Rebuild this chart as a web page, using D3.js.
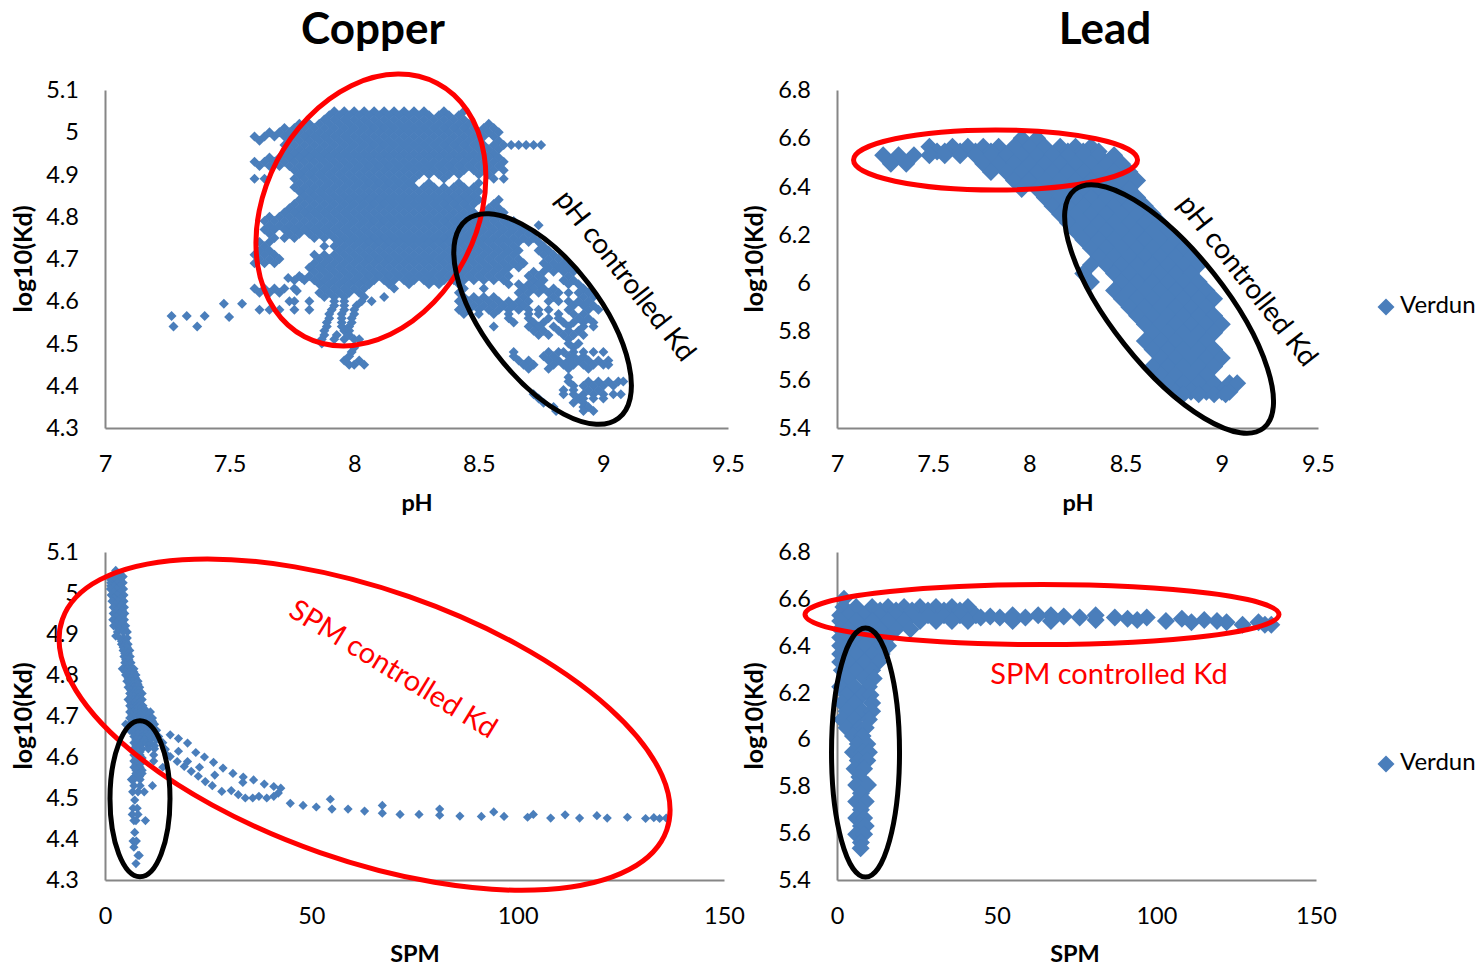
<!DOCTYPE html>
<html>
<head>
<meta charset="utf-8">
<script src="https://cdnjs.cloudflare.com/ajax/libs/d3/7.8.5/d3.min.js"></script>
<style>
  html, body { margin: 0; padding: 0; background: #fff; }
  svg text { font-family: Lato, "Liberation Sans", sans-serif; fill: #000; }
</style>
</head>
<body>
<script>
// Tick labels
const phTicks = [7, 7.5, 8, 8.5, 9, 9.5];
const spmTicks = [0, 50, 100, 150];
const cuKdTicks = [4.3, 4.4, 4.5, 4.6, 4.7, 4.8, 4.9, 5, 5.1];
const pbKdTicks = [5.4, 5.6, 5.8, 6, 6.2, 6.4, 6.6, 6.8];

// Copper, pH panel: one list of pH readings for each log10(Kd) row
const cuPhRowKd = [5.05, 5.04, 5.03, 5.02, 5.01, 5, 4.99, 4.98, 4.97, 4.96, 4.95, 4.94, 4.93, 4.92, 4.91, 4.9, 4.89, 4.88, 4.87, 4.86, 4.85, 4.84, 4.83, 4.82, 4.81, 4.8, 4.79, 4.78, 4.77, 4.76, 4.75, 4.74, 4.73, 4.72, 4.71, 4.7, 4.69, 4.68, 4.67, 4.66, 4.65, 4.64, 4.63, 4.62, 4.61, 4.6, 4.59, 4.58, 4.57, 4.56, 4.55, 4.54, 4.53, 4.52, 4.51, 4.5, 4.49, 4.48, 4.47, 4.46, 4.45, 4.44, 4.42, 4.41, 4.4, 4.39, 4.38, 4.37, 4.36, 4.35, 4.34];
const cuPhRowPh = [
  [7.92,7.96,8,8.04,8.08,8.12,8.16,8.2,8.24,8.28,8.36,8.44],
  [7.9,7.94,7.98,8.02,8.06,8.1,8.14,8.18,8.22,8.26,8.3,8.34,8.38,8.42],
  [7.88,7.92,7.96,8,8.04,8.08,8.12,8.16,8.2,8.24,8.28,8.32,8.36,8.4,8.44],
  [7.78,7.82,7.86,7.9,7.94,7.98,8.02,8.06,8.1,8.14,8.18,8.22,8.26,8.3,8.34,8.38,8.42,8.46,8.54],
  [7.72,7.76,7.8,7.84,7.88,7.92,7.96,8,8.04,8.08,8.12,8.16,8.2,8.24,8.28,8.32,8.36,8.4,8.44,8.48,8.52,8.56],
  [7.66,7.7,7.74,7.78,7.82,7.86,7.9,7.94,7.98,8.02,8.06,8.1,8.14,8.18,8.22,8.26,8.3,8.34,8.38,8.42,8.46,8.5,8.54,8.58],
  [7.6,7.64,7.68,7.72,7.76,7.8,7.84,7.88,7.92,7.96,8,8.04,8.08,8.12,8.16,8.2,8.24,8.28,8.32,8.36,8.4,8.44,8.48,8.52,8.56],
  [7.62,7.74,7.78,7.82,7.86,7.9,7.94,7.98,8.02,8.06,8.1,8.14,8.18,8.22,8.26,8.3,8.34,8.38,8.42,8.46,8.5,8.58],
  [7.72,7.76,7.8,7.84,7.88,7.92,7.96,8,8.04,8.08,8.12,8.16,8.2,8.24,8.28,8.32,8.36,8.4,8.44,8.48,8.52,8.56,8.6,8.63,8.66,8.69,8.72,8.75],
  [7.74,7.78,7.82,7.86,7.9,7.94,7.98,8.02,8.06,8.1,8.14,8.18,8.22,8.26,8.3,8.34,8.38,8.42,8.46,8.5,8.54,8.58],
  [7.72,7.76,7.8,7.84,7.88,7.92,7.96,8,8.04,8.08,8.12,8.16,8.2,8.24,8.28,8.32,8.36,8.4,8.44,8.48,8.52,8.56],
  [7.66,7.7,7.74,7.78,7.82,7.86,7.9,7.94,7.98,8.02,8.06,8.1,8.14,8.18,8.22,8.26,8.3,8.34,8.38,8.42,8.46,8.5,8.54,8.58],
  [7.6,7.64,7.68,7.72,7.76,7.8,7.84,7.88,7.92,7.96,8,8.04,8.08,8.12,8.16,8.2,8.24,8.28,8.32,8.36,8.4,8.44,8.48,8.52,8.56,8.6],
  [7.62,7.66,7.7,7.74,7.78,7.82,7.86,7.9,7.94,7.98,8.02,8.06,8.1,8.14,8.18,8.22,8.26,8.3,8.34,8.38,8.42,8.46,8.5,8.54,8.58],
  [7.76,7.8,7.84,7.88,7.92,7.96,8,8.04,8.08,8.12,8.16,8.2,8.24,8.28,8.32,8.36,8.4,8.44,8.48,8.52,8.56,8.6],
  [7.78,7.82,7.86,7.9,7.94,7.98,8.02,8.06,8.1,8.14,8.18,8.22,8.26,8.3,8.34,8.38,8.42,8.5,8.54],
  [7.6,7.64,7.76,7.8,7.84,7.88,7.92,7.96,8,8.04,8.08,8.12,8.16,8.2,8.24,8.36,8.56,8.6],
  [7.78,7.82,7.86,7.9,7.94,7.98,8.02,8.06,8.1,8.14,8.18,8.22,8.3,8.42,8.5],
  [7.76,7.8,7.84,7.88,7.92,7.96,8,8.04,8.08,8.12,8.16,8.2,8.24,8.28,8.32,8.36,8.4,8.44,8.48],
  [7.78,7.82,7.86,7.9,7.94,7.98,8.02,8.06,8.1,8.14,8.18,8.22,8.26,8.3,8.34,8.38,8.42,8.46,8.5],
  [7.8,7.84,7.88,7.92,7.96,8,8.04,8.08,8.12,8.16,8.2,8.24,8.28,8.32,8.36,8.4,8.44,8.48],
  [7.78,7.82,7.86,7.9,7.94,7.98,8.02,8.06,8.1,8.14,8.18,8.22,8.26,8.3,8.34,8.38,8.42,8.46,8.5,8.58],
  [7.76,7.8,7.84,7.88,7.92,7.96,8,8.04,8.08,8.12,8.16,8.2,8.24,8.28,8.32,8.36,8.4,8.44,8.48,8.56],
  [7.74,7.78,7.82,7.86,7.9,7.94,7.98,8.02,8.06,8.1,8.14,8.18,8.22,8.26,8.3,8.34,8.38,8.42,8.46,8.54,8.58],
  [7.72,7.76,7.8,7.84,7.88,7.92,7.96,8,8.04,8.08,8.12,8.16,8.2,8.24,8.28,8.32,8.36,8.4,8.44,8.48,8.52,8.56,8.6],
  [7.66,7.7,7.74,7.78,7.82,7.86,7.9,7.94,7.98,8.02,8.06,8.1,8.14,8.18,8.22,8.26,8.3,8.34,8.38,8.42,8.46,8.5,8.54,8.58],
  [7.64,7.68,7.72,7.76,7.8,7.84,7.88,7.92,7.96,8,8.04,8.08,8.12,8.16,8.2,8.24,8.28,8.32,8.36,8.4,8.44,8.48,8.52,8.56,8.6,8.64],
  [7.66,7.7,7.74,7.78,7.82,7.86,7.9,7.94,7.98,8.02,8.06,8.1,8.14,8.18,8.22,8.26,8.3,8.34,8.38,8.42,8.46,8.5,8.54,8.58,8.62,8.66,8.74],
  [7.64,7.68,7.72,7.76,7.8,7.84,7.88,7.92,7.96,8,8.04,8.08,8.12,8.16,8.2,8.24,8.28,8.32,8.36,8.4,8.44,8.48,8.52,8.56,8.6,8.64,8.68],
  [7.66,7.74,7.78,7.82,7.86,7.9,7.94,7.98,8.02,8.06,8.1,8.14,8.18,8.22,8.26,8.3,8.34,8.38,8.42,8.46,8.5,8.54,8.58,8.62,8.66,8.7],
  [7.68,7.72,7.76,7.84,7.88,7.92,7.96,8,8.04,8.08,8.12,8.16,8.2,8.24,8.28,8.32,8.36,8.4,8.44,8.48,8.52,8.56,8.6,8.64,8.68,8.72],
  [7.62,7.66,7.94,7.98,8.02,8.06,8.1,8.14,8.18,8.22,8.26,8.3,8.34,8.38,8.42,8.46,8.5,8.54,8.58,8.62,8.66,8.7,8.74],
  [7.64,7.88,7.92,7.96,8,8.04,8.08,8.12,8.16,8.2,8.24,8.28,8.32,8.36,8.4,8.44,8.48,8.52,8.56,8.6,8.64,8.76],
  [7.62,7.66,7.94,7.98,8.02,8.06,8.1,8.14,8.18,8.22,8.26,8.3,8.34,8.38,8.42,8.46,8.5,8.54,8.58,8.62,8.66,8.74,8.78],
  [7.6,7.64,7.68,7.84,7.88,7.92,7.96,8,8.04,8.08,8.12,8.16,8.2,8.24,8.28,8.32,8.36,8.4,8.44,8.48,8.52,8.56,8.6,8.64,8.76,8.8],
  [7.62,7.66,7.7,7.86,7.9,7.94,7.98,8.02,8.06,8.1,8.14,8.18,8.22,8.26,8.3,8.34,8.38,8.42,8.46,8.5,8.54,8.58,8.62,8.66,8.78,8.82],
  [7.6,7.64,7.68,7.84,7.88,7.92,7.96,8,8.04,8.08,8.12,8.16,8.2,8.24,8.28,8.32,8.36,8.4,8.44,8.48,8.52,8.56,8.6,8.64,8.68,8.76,8.8,8.84],
  [7.82,7.86,7.9,7.94,7.98,8.02,8.06,8.1,8.14,8.18,8.22,8.26,8.3,8.34,8.38,8.42,8.46,8.5,8.54,8.58,8.62,8.66,8.78,8.82,8.86],
  [7.84,7.88,7.92,7.96,8,8.04,8.08,8.12,8.16,8.2,8.24,8.28,8.32,8.36,8.4,8.44,8.48,8.52,8.56,8.6,8.72,8.76,8.8,8.84,8.88],
  [7.78,7.82,7.86,7.9,7.94,7.98,8.02,8.06,8.1,8.14,8.18,8.22,8.26,8.3,8.34,8.38,8.42,8.46,8.5,8.54,8.58,8.62,8.7,8.74,8.86],
  [7.76,7.8,7.84,7.88,7.92,7.96,8,8.04,8.08,8.12,8.16,8.2,8.24,8.28,8.32,8.36,8.4,8.44,8.48,8.52,8.56,8.6,8.72,8.76,8.84,8.88],
  [7.86,7.9,7.94,7.98,8.02,8.06,8.14,8.22,8.3,8.34,8.42,8.62,8.66,8.7,8.74,8.86,8.9],
  [7.6,7.64,7.68,7.72,7.76,7.88,7.92,7.96,8,8.04,8.16,8.44,8.52,8.68,8.72,8.76,8.8,8.92],
  [7.62,7.66,7.7,7.86,7.9,7.94,7.98,8.02,8.42,8.66,8.7,8.74,8.78,8.82,8.86,8.9,8.94],
  [7.88,7.92,7.96,8.04,8.12,8.44,8.48,8.52,8.56,8.68,8.8,8.92,8.96],
  [7.74,7.82,7.92,7.96,8.03,8.07,8.42,8.46,8.5,8.54,8.58,8.62,8.66,8.7,8.78,8.82,8.86,8.9,8.94],
  [7.92,7.96,8.01,8.44,8.48,8.52,8.56,8.6,8.64,8.68,8.88,8.92,8.96],
  [7.62,7.66,7.7,7.76,7.82,7.91,7.96,8,8.42,8.46,8.5,8.54,8.58,8.62,8.66,8.7,8.74,8.78,8.86,8.94,8.98],
  [7.9,7.95,8,8.44,8.5,8.56,8.62,8.7,8.74,8.82,8.88,8.92],
  [7.9,7.95,7.99,8.62,8.7,8.78,8.82,8.9,8.94],
  [7.89,7.95,7.99,8.64,8.72,8.76,8.84,8.88,8.92,8.96],
  [7.89,7.95,7.98,8.56,8.7,8.74,8.8,8.86,8.92,8.96],
  [7.88,7.96,7.98,8.72,8.76,8.82,8.86,8.9],
  [7.88,7.93,7.98,8.74,8.78,8.84,8.88,8.92],
  [7.87,7.92,7.96,8,8.02,8.86],
  [7.87,8.86,8.9],
  [8,8.88],
  [7.99,8.64,8.78,8.82,8.84,8.88,8.92,8.96,9],
  [7.98,8.64,8.76,8.8,8.86,8.88,8.92],
  [7.96,8.02,8.66,8.7,8.78,8.82,8.86,8.9,8.94,8.98,9.02],
  [7.98,8.04,8,8.68,8.72,8.8,8.84,8.88,8.92,8.96,9,9.02],
  [8.7,8.78,8.86,8.94],
  [8.86],
  [8.86,8.94,8.98,9.02,9.06,9.08],
  [8.88,8.92,8.96,9,9.04],
  [8.84,8.88,8.94,8.98],
  [8.72,8.84,8.88,8.92,8.96,9,9.04,9.07],
  [8.74,8.9,8.92,8.96,9],
  [8.76,8.88,8.92],
  [8.8,8.92,8.94],
  [8.81,8.92,8.96]
];
// low pH stragglers on the left
const cuPhLowPh = [7.267, 7.328, 7.4, 7.275, 7.37, 7.498, 7.477, 7.55, 7.735, 7.79, 7.77, 7.76];
const cuPhLowKd = [4.565, 4.565, 4.565, 4.54, 4.54, 4.563, 4.594, 4.594, 4.655, 4.655, 4.624, 4.6];

// Copper, SPM panel: the steep column, one list of SPM readings per row
const cuSpmRowKd = [5.055, 5.0475, 5.04, 5.0325, 5.025, 5.0175, 5.01, 5.0025, 4.995, 4.9875, 4.98, 4.9725, 4.965, 4.9575, 4.95, 4.9425, 4.935, 4.9275, 4.92, 4.9125, 4.905, 4.895, 4.89, 4.8825, 4.875, 4.8675, 4.86, 4.8525, 4.845, 4.8375, 4.83, 4.8225, 4.815, 4.8075, 4.8, 4.7925, 4.785, 4.7775, 4.77, 4.7625, 4.755, 4.7475, 4.74, 4.7325, 4.725, 4.7175, 4.71, 4.7025, 4.695, 4.6875, 4.68, 4.6725, 4.665, 4.6575, 4.65, 4.6425, 4.635, 4.6275, 4.62, 4.6125, 4.605, 4.5975, 4.59, 4.5825, 4.575, 4.5675, 4.56, 4.5525, 4.545, 4.53, 4.515, 4.495, 4.475, 4.46, 4.445, 4.416, 4.395, 4.38, 4.36, 4.34];
const cuSpmRowSpm = [
  [2.6], [2.2,3.6], [1.8,3,4.4], [1.4,2.4,3.7], [1.4,3,4.4], [1.4,2.2,3.7], [1.3,2.8,4.5], [2.1,3.7], [1.5,3,4.6], [2.2,3.9],
  [1.7,3.2,4.6], [2.5,4], [2,3.5,4.7], [2.7,4.2], [2,3.5,4.8], [2.7,4.2], [1.9,3.4,4.7], [2.7,4.2], [2.1,3.6,5], [3.3,4.7],
  [3,4.4,5.4], [2.6], [3.6,4.5,5.4], [4,5], [4,4.8,5.6], [4.4,5.4], [4.4,5.2,6], [4.8,5.6], [4.6,5.4,6.1], [5,5.8],
  [4.8,5.5,6.3], [5.2,6], [4.2,5.5,6.3,7], [5,6,7], [5,5.8,6.5,7.5], [5.6,6.4,7.4], [5.3,6.1,6.8,8], [6,7,8], [5.6,6.3,7,7.7,8.4], [6.3,7.3,8.2],
  [6,6.8,7.5,8.2,9], [6.3,7.2,8.3], [5.6,6.3,7,7.8,8.5,9], [6.3,7.2,8.3], [6,6.8,7.5,8.3,9.2], [6.5,7.5,8.5,9.5], [6,6.8,7.5,8.5,9.5,10.2,11], [6.5,7.5,8.5,9.5,10.5], [6,7.5,8.5,9.5,10.5,11.5], [6.5,7.5,8.5,9.5,10.5,11.5],
  [5,6,7,8,9,10,11,12], [6.5,7.5,8.5,9.5,10.5,11.5], [6,7,8,9,10,11,12.5], [7,8,9,10,11,12], [7,8,9,10,11,12,13], [7.5,8.5,9.5,11,12.5], [7,8,9,10,11,14], [7.5,8.5,10.5,12], [7,9,10.5,12,14.5], [7.5,8.5],
  [7,8.5,11.8,15], [7.5,9], [7,8,9,11.8], [7.5,8.5], [7,8.5,14], [7.5,9], [7.5,8.5,9], [7.2,8.4], [6.4,7,8.5], [7,8.5,11.5], [6.7,8,9.5],
  [7.2], [6.8,7.8], [6.6,8], [7,7.5,9.8], [7.2], [6.8,7.6], [7], [8,8.3], [7.5]
];
// Copper, SPM panel: the arcs and the long tail
const cuSpmTailSpm = [15.8, 17.8, 20, 22, 24.1, 26.3, 28.6, 31, 33.5, 33.4, 36, 38.6, 40.9, 42.6, 42, 17.8, 20, 22.9, 26.6, 14.6, 15.8, 17.5, 19.2, 20.9, 22.6, 24.3, 26, 28.3, 30.6, 32.3, 34, 35.8, 37.3, 39.2, 40.9, 44.9, 48, 51.2, 54.6, 55, 58.9, 62.9, 67.2, 67.2, 71.5, 76.1, 81.1, 81.1, 86, 91.2, 94.2, 96.7, 102.4, 103.8, 108, 111.5, 115, 119.2, 121.7, 126.6, 131, 133, 134.4, 136];
const cuSpmTailKd = [4.654, 4.645, 4.634, 4.611, 4.6, 4.587, 4.573, 4.56, 4.551, 4.538, 4.544, 4.534, 4.528, 4.524, 4.512, 4.614, 4.589, 4.575, 4.556, 4.618, 4.601, 4.589, 4.577, 4.565, 4.553, 4.54, 4.53, 4.516, 4.518, 4.508, 4.5, 4.5, 4.504, 4.5, 4.504, 4.487, 4.482, 4.478, 4.497, 4.473, 4.473, 4.468, 4.482, 4.463, 4.46, 4.46, 4.473, 4.458, 4.456, 4.455, 4.466, 4.455, 4.453, 4.46, 4.451, 4.459, 4.451, 4.457, 4.451, 4.453, 4.45, 4.452, 4.45, 4.451];

// Lead, pH panel
const pbPhRowKd = [6.6, 6.565, 6.545, 6.53, 6.495, 6.46, 6.425, 6.39, 6.355, 6.32, 6.285, 6.25, 6.215, 6.18, 6.145, 6.11, 6.075, 6.04, 6.005, 5.97, 5.935, 5.9, 5.865, 5.83, 5.795, 5.76, 5.725, 5.69, 5.655, 5.62, 5.585, 5.55, 5.54];
const pbPhRowPh = [
  [7.96,8.04],
  [7.48,7.6,7.68,7.76,7.84,7.92,8,8.08,8.16,8.24,8.32],
  [7.52,7.56,7.64,7.72,7.8,8.2,8.28,8.36],
  [7.24,7.32,7.4,7.48,7.56,7.64,7.72,7.8,7.88,7.96,8.04,8.12,8.2,8.28,8.36,8.44],
  [7.28,7.36,7.76,7.84,7.92,8,8.08,8.16,8.24,8.32,8.4,8.48],
  [7.8,7.88,7.96,8.04,8.12,8.2,8.28,8.36,8.44,8.52],
  [7.92,8,8.08,8.16,8.24,8.32,8.4,8.48,8.56],
  [7.96,8.04,8.12,8.2,8.28,8.36,8.44,8.52],
  [8.08,8.16,8.24,8.32,8.4,8.48,8.56],
  [8.12,8.2,8.28,8.36,8.44,8.52,8.6],
  [8.16,8.24,8.32,8.4,8.48,8.56,8.64],
  [8.2,8.28,8.36,8.44,8.52,8.6,8.68],
  [8.24,8.32,8.4,8.48,8.56,8.64,8.72],
  [8.28,8.36,8.44,8.52,8.6,8.68,8.76],
  [8.32,8.4,8.48,8.56,8.64,8.72,8.8],
  [8.36,8.44,8.52,8.6,8.68,8.76,8.84],
  [8.32,8.4,8.48,8.56,8.64,8.72,8.8,8.88],
  [8.28,8.44,8.52,8.6,8.68,8.76,8.84],
  [8.32,8.48,8.56,8.64,8.72,8.8,8.88],
  [8.44,8.52,8.6,8.68,8.76,8.84,8.92],
  [8.48,8.56,8.64,8.72,8.8,8.88,8.96],
  [8.52,8.6,8.68,8.76,8.84,8.92],
  [8.56,8.64,8.72,8.8,8.88,8.96],
  [8.6,8.68,8.76,8.84,8.92,9],
  [8.64,8.72,8.8,8.88,8.96],
  [8.6,8.68,8.76,8.84,8.92],
  [8.64,8.72,8.8,8.88,8.96],
  [8.68,8.76,8.84,8.92,9],
  [8.64,8.72,8.8,8.88,8.96],
  [8.68,8.76,8.84,8.92],
  [8.72,8.8,8.88,8.96,9.04,9.08],
  [8.76,8.84,8.92,9,9.04],
  [8.8,8.88,8.96,9.02]
];

// Lead, SPM panel: the steep column and the plateau
const pbSpmRowKd = [6.6, 6.565, 6.55, 6.53, 6.505, 6.47, 6.435, 6.4, 6.365, 6.33, 6.295, 6.26, 6.225, 6.19, 6.155, 6.12, 6.085, 6.05, 6.015, 5.98, 5.945, 5.91, 5.875, 5.84, 5.805, 5.77, 5.735, 5.7, 5.665, 5.63, 5.595, 5.56, 5.535];
const pbSpmRowSpm = [
  [2.2], [2,6,11,16,21,26,31,36,41], [13.5,18.5,23.5,28.5,33.5,38.5], [1,3.5,8.5,13.5,18.5,23.5,28.5,33.5,38.5,43.5], [1,6,11,16,21,26,31,36,41],
  [1,3.5,8.5,13.5,18.5,23], [1,6,11,16], [1,3.5,8.5,13.5,16], [1,6,11,14], [1,3.5,8.5,13], [1.5,6,11], [3.5,8.5,11.5], [1,5.5,10],
  [3,8,10.5], [1.5,5.5,11], [3,8,11], [1.5,5.5,10], [3,7,9], [5,8], [6.5,9.5], [5,8,10], [6.5,9.5], [5.5,8.5], [7], [6,9.7], [7.5], [6,9], [7.5],
  [6,8.5], [7.5,9], [6,8.5], [7.5], [7.4]
];
const pbSpmTailSpm = [45, 48, 51, 55, 55, 59, 63, 67, 67, 71, 76, 81, 81, 87, 91, 94, 97, 103, 108, 111, 115, 119, 122, 127, 132, 134, 136];
const pbSpmTailKd = [6.52, 6.525, 6.52, 6.53, 6.505, 6.52, 6.53, 6.53, 6.505, 6.525, 6.52, 6.53, 6.51, 6.52, 6.515, 6.51, 6.52, 6.505, 6.515, 6.5, 6.51, 6.505, 6.5, 6.49, 6.5, 6.49, 6.49];

const legendName = "Verdun";
const blue = "#4a7ebb";

// Page furniture
const width = 1483;
const height = 968;
const svg = d3.select("body").append("svg").attr("width", width).attr("height", height);

function toPoints(rowKd, rowX) {
  return rowKd.flatMap((kd, i) => rowX[i].map((x) => ({ x: x, kd: kd })));
}
function pairs(xs, kds) {
  return xs.map((x, i) => ({ x: x, kd: kds[i] }));
}

const panels = [
  {
    box: [105, 728, 90, 428], xDomain: [7, 9.5], yDomain: [4.3, 5.1], xTicks: phTicks, yTicks: cuKdTicks,
    xTitle: "pH", xTitleX: 417, xTitleY: 505, yTitleX: 26, r: 5, legendY: null,
    points: toPoints(cuPhRowKd, cuPhRowPh).concat(pairs(cuPhLowPh, cuPhLowKd)),
    ellipses: [
      { cx: 8.067, cy: 4.816, rx: 106, ry: 143, rot: 27.6, color: "#ff0000" },
      { cx: 8.756, cy: 4.558, rx: 58, ry: 125, rot: -37.4, color: "#000" },
    ],
    note: { text: "pH controlled Kd", x: 624, y: 277, rot: 52, color: "#000", size: 28 },
  },
  {
    box: [837, 1318, 90, 428], xDomain: [7, 9.5], yDomain: [5.4, 6.8], xTicks: phTicks, yTicks: pbKdTicks,
    xTitle: "pH", xTitleX: 1078, xTitleY: 505, yTitleX: 757, r: 9, legendY: 307,
    points: toPoints(pbPhRowKd, pbPhRowPh),
    ellipses: [
      { cx: 7.824, cy: 6.51, rx: 142, ry: 30, rot: 0, color: "#ff0000" },
      { cx: 8.726, cy: 5.893, rx: 57, ry: 152, rot: -38.4, color: "#000" },
    ],
    note: { text: "pH controlled Kd", x: 1246, y: 282, rot: 52, color: "#000", size: 28 },
  },
  {
    box: [105, 724, 552, 880], xDomain: [0, 150], yDomain: [4.3, 5.1], xTicks: spmTicks, yTicks: cuKdTicks,
    xTitle: "SPM", xTitleX: 415, xTitleY: 956, yTitleX: 26, r: 4.6, legendY: null,
    points: toPoints(cuSpmRowKd, cuSpmRowSpm).concat(pairs(cuSpmTailSpm, cuSpmTailKd)),
    ellipses: [
      { cx: 62.9, cy: 4.679, rx: 320, ry: 135.5, rot: 19.2, color: "#ff0000" },
      { cx: 8.48, cy: 4.498, rx: 30, ry: 78, rot: 0, color: "#000" },
    ],
    note: { text: "SPM controlled Kd", x: 392, y: 671, rot: 31.5, color: "#ff0000", size: 29 },
  },
  {
    box: [837, 1316, 552, 880], xDomain: [0, 150], yDomain: [5.4, 6.8], xTicks: spmTicks, yTicks: pbKdTicks,
    xTitle: "SPM", xTitleX: 1075, xTitleY: 956, yTitleX: 757, r: 9, legendY: 764,
    points: toPoints(pbSpmRowKd, pbSpmRowSpm).concat(pairs(pbSpmTailSpm, pbSpmTailKd)),
    ellipses: [
      { cx: 64.2, cy: 6.533, rx: 237, ry: 30, rot: 0, color: "#ff0000" },
      { cx: 8.93, cy: 5.944, rx: 34, ry: 124.5, rot: 0, color: "#000" },
    ],
    note: { text: "SPM controlled Kd", x: 1109, y: 677, rot: 0, color: "#ff0000", size: 29 },
  },
];

function diamond(r) {
  return "M0," + -r + "L" + r + ",0L0," + r + "L" + -r + ",0Z";
}

panels.forEach((p) => {
  const x = d3.scaleLinear().domain(p.xDomain).range([p.box[0], p.box[1]]);
  const y = d3.scaleLinear().domain(p.yDomain).range([p.box[3], p.box[2]]);
  const g = svg.append("g");

  // Axes
  const xAxis = d3.axisBottom(x).tickValues(p.xTicks).tickSize(0).tickPadding(27).tickFormat((d) => d);
  const yAxis = d3.axisLeft(y).tickValues(p.yTicks).tickSize(0).tickPadding(26).tickFormat((d) => d);
  [
    g.append("g").attr("transform", "translate(0," + p.box[3] + ")").call(xAxis),
    g.append("g").attr("transform", "translate(" + p.box[0] + ",0)").call(yAxis),
  ].forEach((a) => {
    a.select(".domain").attr("stroke", "#868686").attr("stroke-width", 2);
    a.selectAll("text").style("font-size", "23.5px");
  });

  // Points
  g.append("g")
    .selectAll("path")
    .data(p.points)
    .enter()
    .append("path")
    .attr("d", diamond(p.r))
    .attr("fill", blue)
    .attr("transform", (d) => "translate(" + x(d.x) + "," + y(d.kd) + ")");

  // Axis titles
  g.append("text")
    .attr("x", p.xTitleX)
    .attr("y", p.xTitleY)
    .attr("text-anchor", "middle")
    .attr("dominant-baseline", "middle")
    .style("font-size", "23.5px")
    .style("font-weight", 700)
    .text(p.xTitle);
  g.append("text")
    .attr("transform", "translate(" + p.yTitleX + "," + (p.box[2] + p.box[3]) / 2 + ") rotate(-90)")
    .attr("text-anchor", "middle")
    .attr("dominant-baseline", "middle")
    .style("font-size", "25px")
    .style("font-weight", 700)
    .text("log10(Kd)");

  // Hand drawn rings
  g.selectAll("ellipse")
    .data(p.ellipses)
    .enter()
    .append("ellipse")
    .attr("rx", (d) => d.rx)
    .attr("ry", (d) => d.ry)
    .attr("fill", "none")
    .attr("stroke", (d) => d.color)
    .attr("stroke-width", 5)
    .attr("transform", (d) => "translate(" + x(d.cx) + "," + y(d.cy) + ") rotate(" + d.rot + ")");

  // Note
  g.append("text")
    .attr("transform", "translate(" + p.note.x + "," + p.note.y + ") rotate(" + p.note.rot + ")")
    .attr("text-anchor", "middle")
    .attr("dominant-baseline", "middle")
    .style("font-size", p.note.size + "px")
    .style("fill", p.note.color)
    .text(p.note.text);

  // Legend
  if (p.legendY !== null) {
    g.append("path")
      .attr("d", diamond(8.5))
      .attr("fill", blue)
      .attr("transform", "translate(1386," + p.legendY + ")");
    g.append("text")
      .attr("x", 1400)
      .attr("y", p.legendY)
      .attr("dominant-baseline", "middle")
      .style("font-size", "24px")
      .text(legendName);
  }
});

// Column titles
[["Copper", 373], ["Lead", 1105]].forEach((t) => {
  svg.append("text")
    .attr("x", t[1])
    .attr("y", 33)
    .attr("text-anchor", "middle")
    .attr("dominant-baseline", "middle")
    .style("font-size", "44px")
    .style("font-weight", 700)
    .text(t[0]);
});
</script>
</body>
</html>
